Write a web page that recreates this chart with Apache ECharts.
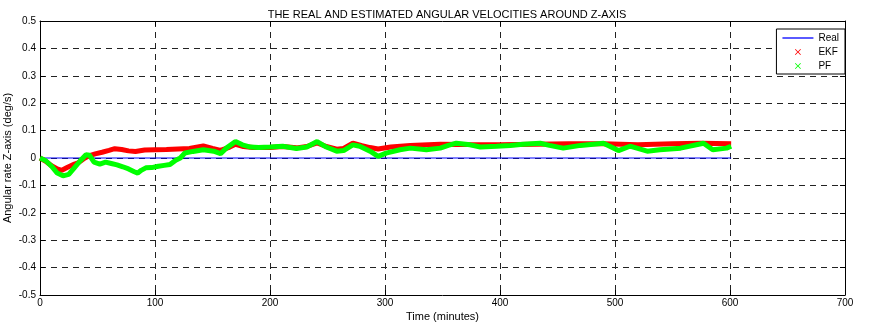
<!DOCTYPE html>
<html>
<head>
<meta charset="utf-8">
<script src="https://cdn.jsdelivr.net/npm/echarts@6/dist/echarts.min.js"></script>
<style>
html,body{margin:0;padding:0;background:#fff;}
#chart{width:880px;height:330px;}
</style>
</head>
<body>
<div id="chart"></div>
<script>
var titleText = 'THE REAL AND ESTIMATED ANGULAR VELOCITIES AROUND Z-AXIS';
var xName = 'Time (minutes)';
var yName = 'Angular rate Z-axis (deg/s)';
var seriesNames = ['Real', 'EKF', 'PF'];

var realTime = [0, 601];
var realValues = [0, 0];

var ekfTime = [0, 5, 10, 15, 19, 24, 30, 33, 39, 43, 48, 54, 60, 65, 71, 77, 83, 91, 100, 110, 120, 130, 142, 150, 157, 165, 170, 177, 185, 200, 211, 223, 232, 241, 249, 258, 264, 272, 280, 287, 294, 305, 322, 348, 370, 400, 430, 460, 490, 520, 550, 575, 601];
var ekfValues = [0, -0.012, -0.028, -0.04, -0.045, -0.034, -0.022, -0.018, 0, 0.009, 0.015, 0.021, 0.028, 0.034, 0.031, 0.026, 0.024, 0.029, 0.03, 0.031, 0.033, 0.035, 0.044, 0.035, 0.028, 0.04, 0.05, 0.042, 0.038, 0.038, 0.042, 0.037, 0.042, 0.055, 0.042, 0.032, 0.035, 0.054, 0.045, 0.038, 0.033, 0.04, 0.046, 0.05, 0.049, 0.048, 0.05, 0.052, 0.052, 0.048, 0.052, 0.054, 0.052];

var pfTime = [0, 5, 10, 15, 20, 25, 30, 35, 40, 43, 47, 52, 57, 62, 67, 72, 77, 82, 85, 88, 92, 97, 103, 108, 113, 118, 122, 126, 133, 142, 151, 157, 162, 170, 176, 183, 190, 200, 211, 223, 232, 241, 249, 258, 264, 272, 278, 287, 294, 301, 313, 322, 336, 348, 355, 362, 374, 383, 397, 409, 420, 435, 443, 455, 470, 490, 503, 513, 528, 539, 557, 577, 585, 597, 601];
var pfValues = [0, -0.01, -0.03, -0.055, -0.065, -0.06, -0.035, -0.01, 0.012, 0.01, -0.015, -0.022, -0.015, -0.02, -0.025, -0.032, -0.04, -0.05, -0.055, -0.045, -0.036, -0.035, -0.03, -0.027, -0.024, -0.008, 0, 0.018, 0.024, 0.03, 0.025, 0.016, 0.036, 0.06, 0.048, 0.04, 0.038, 0.04, 0.043, 0.035, 0.04, 0.06, 0.04, 0.025, 0.027, 0.048, 0.043, 0.025, 0.006, 0.018, 0.03, 0.036, 0.03, 0.036, 0.046, 0.054, 0.048, 0.04, 0.043, 0.046, 0.05, 0.054, 0.046, 0.036, 0.046, 0.054, 0.027, 0.043, 0.025, 0.03, 0.036, 0.054, 0.03, 0.036, 0.043];

var xTicks = [0, 100, 200, 300, 400, 500, 600, 700];
var yTicks = [-0.5, -0.4, -0.3, -0.2, -0.1, 0, 0.1, 0.2, 0.3, 0.4, 0.5];

function pairs(t, v) { return t.map(function (x, i) { return [x, v[i]]; }); }

var FONT = '"Liberation Sans", Arial, sans-serif';
var xIcon = 'path://M0,1L1,0L5,4L9,0L10,1L6,5L10,9L9,10L5,6L1,10L0,9L4,5Z';
var lineIcon = 'path://M0,0L31,0L31,1.3L0,1.3Z';

var chart = echarts.init(document.getElementById('chart'), null, {renderer: 'canvas'});
var baseAxisLine = {show: true, onZero: false, lineStyle: {color: '#000', width: 1}};
var option = {
  animation: false,
  backgroundColor: '#fff',
  textStyle: {fontFamily: FONT},
  title: {
    text: titleText, left: 442, top: 4, textAlign: 'center',
    textStyle: {fontSize: 11, fontWeight: 'normal', color: '#000', fontFamily: FONT}
  },
  grid: {left: 40, right: 35, top: 21, bottom: 35, containLabel: false, outerBoundsMode: 'none'},
  legend: {
    orient: 'vertical', right: 35, top: 29,
    backgroundColor: '#fff', borderColor: '#000', borderWidth: 1,
    padding: [4, 6, 3, 6], itemWidth: 31, itemHeight: 6, itemGap: 4,
    textStyle: {fontSize: 10, color: '#000', fontFamily: FONT},
    data: [
      {name: seriesNames[0], icon: lineIcon},
      {name: seriesNames[1], icon: xIcon},
      {name: seriesNames[2], icon: xIcon}
    ]
  },
  xAxis: [{
    type: 'value', min: xTicks[0], max: xTicks[xTicks.length - 1], interval: 100,
    name: xName, nameLocation: 'middle', nameGap: 16, nameMoveOverlap: false,
    nameTextStyle: {fontSize: 11, color: '#000', fontFamily: FONT},
    axisLine: baseAxisLine,
    axisTick: {show: true, inside: true, length: 5, lineStyle: {color: '#000'}},
    axisLabel: {fontSize: 10, color: '#000', margin: 3, fontFamily: FONT},
    splitLine: {show: true, lineStyle: {color: '#222', type: [6, 5], width: 1}}
  }, {
    type: 'value', position: 'top', min: 0, max: 700, interval: 100,
    axisLine: baseAxisLine,
    axisTick: {show: true, inside: true, length: 5, lineStyle: {color: '#000'}},
    axisLabel: {show: false}, splitLine: {show: false}
  }],
  yAxis: [{
    type: 'value', min: yTicks[0], max: yTicks[yTicks.length - 1], interval: 0.1,
    name: yName, nameLocation: 'middle', nameGap: 27, nameMoveOverlap: false,
    nameTextStyle: {fontSize: 11, color: '#000', fontFamily: FONT},
    axisLine: baseAxisLine,
    axisTick: {show: true, inside: true, length: 5, lineStyle: {color: '#000'}},
    axisLabel: {fontSize: 10, color: '#000', margin: 4, fontFamily: FONT,
      formatter: function (v) { return String(Math.round(v * 10) / 10); }},
    splitLine: {show: true, lineStyle: {color: '#222', type: [6, 5], width: 1}}
  }, {
    type: 'value', position: 'right', min: -0.5, max: 0.5, interval: 0.1,
    axisLine: baseAxisLine,
    axisTick: {show: true, inside: true, length: 5, lineStyle: {color: '#000'}},
    axisLabel: {show: false}, splitLine: {show: false}
  }],
  series: [
    {name: seriesNames[0], type: 'line', data: pairs(realTime, realValues), symbol: 'none',
      lineStyle: {color: '#0000ff', width: 1}, itemStyle: {color: '#0000ff'}, z: 2},
    {name: seriesNames[1], type: 'line', data: pairs(ekfTime, ekfValues), symbol: 'none',
      lineStyle: {color: '#ff0000', width: 5}, itemStyle: {color: '#ff0000'}, z: 3},
    {name: seriesNames[2], type: 'line', data: pairs(pfTime, pfValues), symbol: 'none',
      lineStyle: {color: '#00ff00', width: 5}, itemStyle: {color: '#00ff00'}, z: 4}
  ]
};
chart.setOption(option);
</script>
</body>
</html>
